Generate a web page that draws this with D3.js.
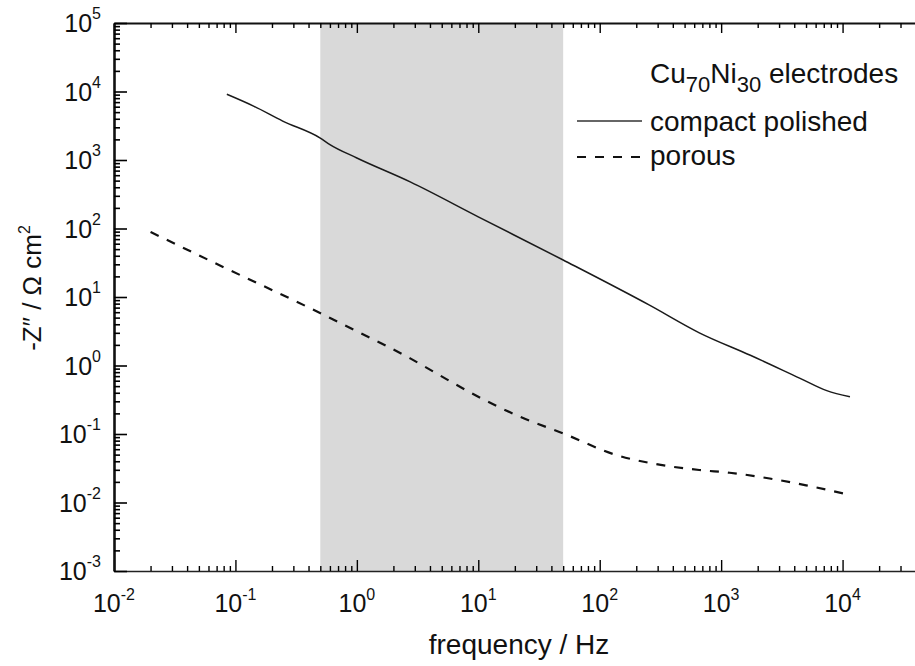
<!DOCTYPE html>
<html>
<head>
<meta charset="utf-8">
<script src="https://cdn.jsdelivr.net/npm/d3@7"></script>
<style>
  body { margin: 0; background: #fff; }
  text { font-family: "Liberation Sans", Arial, sans-serif; fill: #111; }
</style>
</head>
<body>
<div id="chart"></div>
<script>
// frequency (Hz) and -Z'' (ohm cm2)
const compactFreq = [0.085, 0.141, 0.245, 0.5, 0.6, 1, 2.75, 10, 50, 257, 661, 1740, 4470, 7410, 11500];
const compactZ    = [9120, 6130, 3700, 2090, 1680, 1070, 479, 148, 34.7, 7.6, 3.0, 1.41, 0.65, 0.43, 0.35];
const porousFreq  = [0.02, 0.079, 0.41, 1, 2.75, 3.63, 10, 22, 50, 137, 275, 661, 1175, 2510, 5010, 11500];
const porousZ     = [89, 27.5, 6.9, 3.16, 1.27, 0.96, 0.35, 0.179, 0.102, 0.0493, 0.037, 0.0298, 0.0272, 0.0224, 0.0178, 0.0129];
const shadedBand  = [0.5, 50];
const xDecades = [-2, -1, 0, 1, 2, 3, 4];
const yDecades = [-3, -2, -1, 0, 1, 2, 3, 4, 5];

const W = 915, H = 666;
const plotL = 114, plotR = 964, plotT = 23, plotB = 571;

const svg = d3.select("#chart").append("svg")
    .attr("width", W).attr("height", H);

const x = d3.scaleLog().domain([1e-2, 1e5]).range([plotL, plotR]);
const y = d3.scaleLog().domain([1e-3, 1e5]).range([plotB, plotT]);

// shaded frequency window
svg.append("rect")
    .attr("x", x(shadedBand[0]))
    .attr("y", plotT)
    .attr("width", x(shadedBand[1]) - x(shadedBand[0]))
    .attr("height", plotB - plotT)
    .attr("fill", "#d9d9d9");

function isMajor(d) {
    return Math.abs(Math.log10(d) - Math.round(Math.log10(d))) < 1e-6;
}

// bottom axis
const gx = svg.append("g")
    .attr("transform", `translate(0,${plotB})`)
    .call(d3.axisBottom(x).ticks(10).tickFormat("").tickSizeOuter(0));
gx.select(".domain").attr("stroke", "#222").attr("stroke-width", 1.6);
gx.selectAll(".tick line")
    .attr("y2", d => isMajor(d) ? -11 : -5)
    .attr("stroke-width", 1.4);

// top axis
const gt = svg.append("g")
    .attr("transform", `translate(0,${plotT})`)
    .call(d3.axisTop(x).ticks(10).tickFormat("").tickSizeOuter(0));
gt.select(".domain").attr("stroke", "#111").attr("stroke-width", 2);
gt.selectAll(".tick line")
    .attr("y2", d => isMajor(d) ? 10 : 5)
    .attr("stroke-width", 1.4);

// left axis
const gy = svg.append("g")
    .attr("transform", `translate(${plotL},0)`)
    .call(d3.axisLeft(y).ticks(10).tickFormat("").tickSizeOuter(0));
gy.select(".domain").attr("stroke", "#111").attr("stroke-width", 2.6);
gy.selectAll(".tick line")
    .attr("x2", d => isMajor(d) ? 13 : 6)
    .attr("stroke-width", 1.6);

// tick labels 10^n
const xl = svg.append("g");
xDecades.forEach(p => {
    const t = xl.append("text")
        .attr("x", x(Math.pow(10, p)))
        .attr("y", plotB + 41)
        .attr("text-anchor", "middle")
        .attr("font-size", 25)
        .text("10");
    t.append("tspan").attr("dy", -12).attr("font-size", 16).text(p);
});
const yl = svg.append("g");
yDecades.forEach(p => {
    const t = yl.append("text")
        .attr("x", 101)
        .attr("y", y(Math.pow(10, p)) + 9)
        .attr("text-anchor", "end")
        .attr("font-size", 25)
        .text("10");
    t.append("tspan").attr("dy", -13).attr("font-size", 16).text(p);
});

// axis titles
svg.append("text")
    .attr("x", 519).attr("y", 654)
    .attr("text-anchor", "middle")
    .attr("font-size", 28)
    .text("frequency / Hz");

const yt = svg.append("text")
    .attr("transform", "translate(41,288) rotate(-90)")
    .attr("text-anchor", "middle")
    .attr("font-size", 26)
    .text("-Z\u2033 / \u03A9 cm");
yt.append("tspan").attr("dy", -11).attr("font-size", 16).text("2");

// curves
const line = d3.line()
    .x(d => x(d[0]))
    .y(d => y(d[1]))
    .curve(d3.curveMonotoneX);

svg.append("path")
    .datum(d3.zip(compactFreq, compactZ))
    .attr("d", line)
    .attr("fill", "none")
    .attr("stroke", "#1a1a1a")
    .attr("stroke-width", 1.5);

svg.append("path")
    .datum(d3.zip(porousFreq, porousZ))
    .attr("d", line)
    .attr("fill", "none")
    .attr("stroke", "#111")
    .attr("stroke-width", 2.2)
    .attr("stroke-dasharray", "9,9");

// legend
const lg = svg.append("g");
const head = lg.append("text").attr("x", 650).attr("y", 83).attr("font-size", 28);
head.append("tspan").text("Cu");
head.append("tspan").attr("dy", 9).attr("font-size", 22).text("70");
head.append("tspan").attr("dy", -9).text("Ni");
head.append("tspan").attr("dy", 9).attr("font-size", 22).text("30");
head.append("tspan").attr("dy", -9).text(" electrodes");

lg.append("line")
    .attr("x1", 577).attr("x2", 642).attr("y1", 121).attr("y2", 121)
    .attr("stroke", "#333").attr("stroke-width", 1.4);
lg.append("text").attr("x", 650).attr("y", 131).attr("font-size", 28).text("compact polished");

lg.append("line")
    .attr("x1", 577).attr("x2", 642).attr("y1", 157).attr("y2", 157)
    .attr("stroke", "#111").attr("stroke-width", 2.2)
    .attr("stroke-dasharray", "9,9");
lg.append("text").attr("x", 650).attr("y", 165).attr("font-size", 28).text("porous");
</script>
</body>
</html>
